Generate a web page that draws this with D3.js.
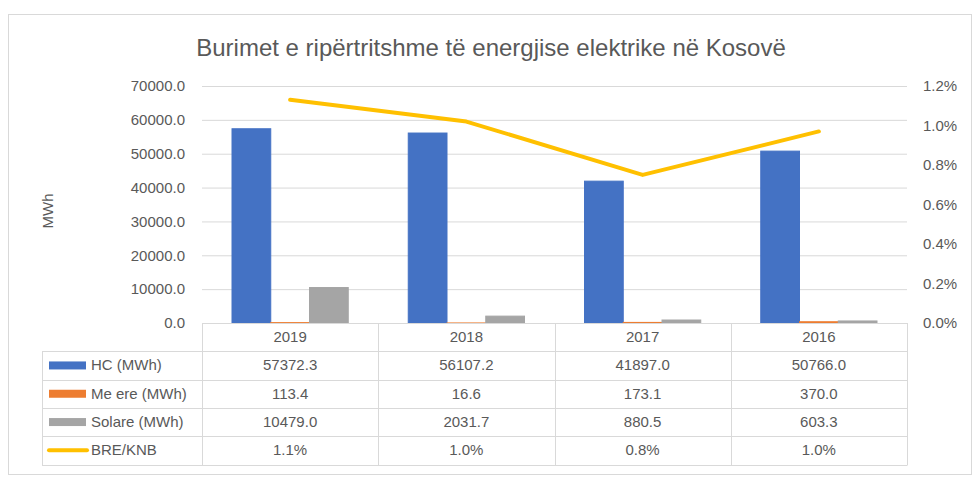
<!DOCTYPE html>
<html>
<head>
<meta charset="utf-8">
<script src="https://cdn.jsdelivr.net/npm/d3@7"></script>
<style>
  body { margin: 0; background: #fff; }
  text { font-family: "Liberation Sans", Arial, sans-serif; fill: #595959; }
</style>
</head>
<body>
<script>
// chart data
var years = ["2019", "2018", "2017", "2016"];
var seriesNames = ["HC (MWh)", "Me ere (MWh)", "Solare (MWh)"];
var hc = [57372.3, 56107.2, 41897.0, 50766.0];
var meEre = [113.4, 16.6, 173.1, 370.0];
var solare = [10479.0, 2031.7, 880.5, 603.3];
var breKnb = [0.0113, 0.0102, 0.0075, 0.0097];
var lineName = "BRE/KNB";
var leftTicks = [0, 10000, 20000, 30000, 40000, 50000, 60000, 70000];
var rightTicks = [0, 0.002, 0.004, 0.006, 0.008, 0.010, 0.012];

var colors = ["#4472C4", "#ED7D31", "#A5A5A5"];
var lineColor = "#FFC000";
var barSeries = [hc, meEre, solare];

var W = 980, H = 481;
var plot = {left: 202, right: 907, top: 86, bottom: 323};
var rowH = 28.3;
var fs = "15px";

var svg = d3.select("body").append("svg")
    .attr("width", W)
    .attr("height", H);

// outer frame
svg.append("rect")
    .attr("x", 8.5).attr("y", 14.5)
    .attr("width", 963).attr("height", 460)
    .attr("fill", "#fff")
    .attr("stroke", "#D9D9D9");

svg.append("text")
    .attr("x", 491).attr("y", 56)
    .attr("text-anchor", "middle")
    .style("font-size", "24px")
    .text("Burimet e ripërtritshme të energjise elektrike në Kosovë");

var x = d3.scaleBand().domain(years).range([plot.left, plot.right]);
var xInner = d3.scaleBand().domain(d3.range(3))
    .range([30, x.bandwidth() - 30]);
var y = d3.scaleLinear().domain([0, 70000]).range([plot.bottom, plot.top]);
var y2 = d3.scaleLinear().domain([0, 0.012]).range([plot.bottom, plot.top]);

// gridlines
svg.append("g")
  .selectAll("line")
  .data(leftTicks.slice(1))
  .join("line")
    .attr("x1", plot.left).attr("x2", plot.right)
    .attr("y1", d => y(d) + 0.5).attr("y2", d => y(d) + 0.5)
    .attr("stroke", "#D9D9D9");

// left axis
var yAxis = svg.append("g")
    .attr("transform", "translate(" + plot.left + ",0)")
    .call(d3.axisLeft(y).tickValues(leftTicks).tickFormat(d3.format(".1f")).tickSize(0).tickPadding(17));
yAxis.select(".domain").remove();
yAxis.selectAll("text").style("font-size", fs).attr("fill", "#595959");

// right axis
var y2Axis = svg.append("g")
    .attr("transform", "translate(" + plot.right + ",0)")
    .call(d3.axisRight(y2).tickValues(rightTicks).tickFormat(d3.format(".1%")).tickSize(0).tickPadding(16));
y2Axis.select(".domain").remove();
y2Axis.selectAll("text").style("font-size", fs).attr("fill", "#595959");

svg.append("text")
    .attr("transform", "translate(53,211) rotate(-90)")
    .attr("text-anchor", "middle")
    .style("font-size", fs)
    .text("MWh");

// bars
barSeries.forEach(function(vals, i) {
  svg.append("g")
    .selectAll("rect")
    .data(vals)
    .join("rect")
      .attr("x", (d, j) => x(years[j]) + xInner(i))
      .attr("width", xInner.bandwidth())
      .attr("y", d => y(d))
      .attr("height", d => plot.bottom - y(d))
      .attr("fill", colors[i])
      .attr("stroke", colors[i])
      .attr("stroke-width", 1);
});

// line
var line = d3.line()
    .x((d, j) => x(years[j]) + x.bandwidth() / 2)
    .y(d => y2(d));
svg.append("path")
    .datum(breKnb)
    .attr("d", line)
    .attr("fill", "none")
    .attr("stroke", lineColor)
    .attr("stroke-width", 4)
    .attr("stroke-linejoin", "round")
    .attr("stroke-linecap", "round");

// data table
var table = svg.append("g").attr("stroke", "#D9D9D9").attr("fill", "none");
var tTop = plot.bottom, legLeft = 42;
var nRows = 5;
// horizontal lines
for (var r = 0; r <= nRows; r++) {
  var yy = Math.round(tTop + r * rowH) + 0.5;
  table.append("line")
    .attr("x1", r === 0 ? plot.left : legLeft).attr("x2", plot.right)
    .attr("y1", yy).attr("y2", yy);
}
// vertical lines
table.append("line")
  .attr("x1", legLeft + 0.5).attr("x2", legLeft + 0.5)
  .attr("y1", Math.round(tTop + rowH) + 0.5).attr("y2", Math.round(tTop + nRows * rowH) + 0.5);
years.forEach(function(yr) {
  var xx = Math.round(x(yr)) + 0.5;
  table.append("line")
    .attr("x1", xx).attr("x2", xx)
    .attr("y1", tTop).attr("y2", Math.round(tTop + nRows * rowH) + 0.5);
});
table.append("line")
  .attr("x1", plot.right + 0.5).attr("x2", plot.right + 0.5)
  .attr("y1", tTop).attr("y2", Math.round(tTop + nRows * rowH) + 0.5);

var rowMid = r => tTop + r * rowH + rowH / 2 + 5;

// header
svg.append("g").selectAll("text")
  .data(years)
  .join("text")
    .attr("x", d => x(d) + x.bandwidth() / 2)
    .attr("y", rowMid(0))
    .attr("text-anchor", "middle")
    .style("font-size", fs)
    .text(d => d);

var rows = [
  {name: seriesNames[0], vals: hc, fmt: d3.format(".1f"), color: colors[0], type: "bar"},
  {name: seriesNames[1], vals: meEre, fmt: d3.format(".1f"), color: colors[1], type: "bar"},
  {name: seriesNames[2], vals: solare, fmt: d3.format(".1f"), color: colors[2], type: "bar"},
  {name: lineName, vals: breKnb, fmt: d3.format(".1%"), color: lineColor, type: "line"}
];

rows.forEach(function(row, i) {
  var ry = tTop + (i + 1) * rowH;
  if (row.type === "bar") {
    svg.append("rect")
      .attr("x", 49).attr("y", ry + rowH / 2 - 4)
      .attr("width", 37).attr("height", 8)
      .attr("fill", row.color);
  } else {
    svg.append("line")
      .attr("x1", 49).attr("x2", 87)
      .attr("y1", ry + rowH / 2).attr("y2", ry + rowH / 2)
      .attr("stroke", row.color).attr("stroke-width", 4)
      .attr("stroke-linecap", "round");
  }
  svg.append("text")
    .attr("x", 91).attr("y", rowMid(i + 1))
    .style("font-size", fs)
    .text(row.name);
  svg.append("g").selectAll("text")
    .data(row.vals)
    .join("text")
      .attr("x", (d, j) => x(years[j]) + x.bandwidth() / 2)
      .attr("y", rowMid(i + 1))
      .attr("text-anchor", "middle")
      .style("font-size", fs)
      .text(d => row.fmt(d));
});
</script>
</body>
</html>
